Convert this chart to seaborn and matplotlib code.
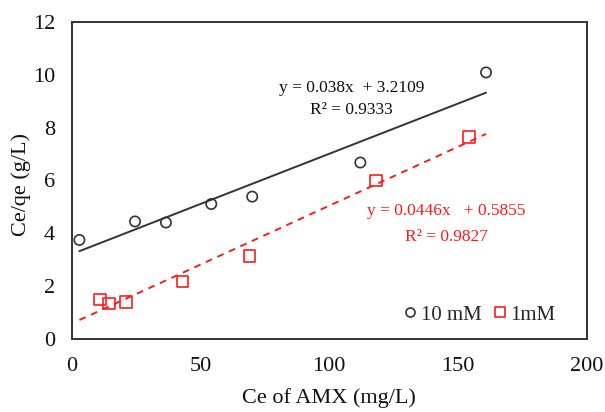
import numpy as np
import pandas as pd
import matplotlib
matplotlib.use("Agg")
import matplotlib.pyplot as plt
import seaborn as sns
from matplotlib.lines import Line2D

# ---- data ----
x_10mM = [3.0, 24.6, 36.6, 54.2, 70.1, 112.1, 160.9]
y_10mM = [3.75, 4.45, 4.41, 5.11, 5.39, 6.68, 10.09]
x_1mM = [10.9, 14.6, 21.0, 43.0, 69.0, 118.2, 154.4]
y_1mM = [1.50, 1.34, 1.40, 2.17, 3.14, 6.00, 7.64]

slope_10mM, icpt_10mM, r2_10mM = 0.038, 3.2109, 0.9333
slope_1mM, icpt_1mM, r2_1mM = 0.0446, 0.5855, 0.9827

x_ticks = [0, 50, 100, 150, 200]
y_ticks = [0, 2, 4, 6, 8, 10, 12]

sns.set_theme(style="white")
plt.rcParams['font.family'] = ['Liberation Serif', 'DejaVu Serif']

fig = plt.figure(figsize=(6.05, 4.12), dpi=100)
ax = fig.add_axes([0.1185, 0.1772, 0.8513, 0.7694])

dark = "#333333"
red = "#FF1A1A"

# trendlines
xl = np.array([min(x_10mM), max(x_10mM)])
df_l10 = pd.DataFrame({"x": xl, "y": slope_10mM * xl + icpt_10mM})
df_l1 = pd.DataFrame({"x": xl, "y": slope_1mM * xl + icpt_1mM})
sns.lineplot(data=df_l10, x="x", y="y", ax=ax, color=dark, lw=1.4)
sns.lineplot(data=df_l1, x="x", y="y", ax=ax, color=red, lw=1.4,
             linestyle=(0, (3.5, 3)))

# scatter
sns.scatterplot(x=x_10mM, y=y_10mM, ax=ax, marker="o", s=55,
                facecolor="none", edgecolor=dark, linewidth=1.2, zorder=3)
sns.scatterplot(x=x_1mM, y=y_1mM, ax=ax, marker="s", s=70,
                facecolor="none", edgecolor=red, linewidth=1.2, zorder=3)

ax.set_xlim(0, 200)
ax.set_ylim(0, 12)
ax.set_xticks(x_ticks)
ax.set_yticks(y_ticks)
ax.tick_params(direction="in", length=6, width=1.2, color=dark,
               labelsize=16, labelcolor="#111111")
ax.tick_params(axis="x", pad=13)
ax.tick_params(axis="y", pad=12)
for sp in ax.spines.values():
    sp.set_color(dark)
    sp.set_linewidth(1.4)
    sp.set_visible(True)

ax.set_xlabel("Ce of AMX (mg/L)", fontsize=16, color="#111111", labelpad=9)
ax.set_ylabel("Ce/qe (g/L)", fontsize=16, color="#111111")
ax.yaxis.set_label_coords(-0.079, 0.487)

# equations
ax.text(108.7, 9.5, f"y = {slope_10mM}x  + {icpt_10mM}", fontsize=12.5,
        color="#111111", ha="center", va="center")
ax.text(108.7, 8.67, f"R² = {r2_10mM}", fontsize=12.5,
        color="#111111", ha="center", va="center")
ax.text(145.4, 4.85, f"y = {slope_1mM}x   + {icpt_1mM}", fontsize=12.5,
        color=red, ha="center", va="center")
ax.text(145.4, 3.86, f"R² = {r2_1mM}", fontsize=12.5,
        color=red, ha="center", va="center")

handles = [
    Line2D([], [], marker="o", linestyle="none", markerfacecolor="none",
           markeredgecolor=dark, markersize=6.5, markeredgewidth=1.2),
    Line2D([], [], marker="s", linestyle="none", markerfacecolor="none",
           markeredgecolor=red, markersize=6.5, markeredgewidth=1.2),
]
ax.legend(handles, ["10 mM", "1mM"], ncol=2, frameon=False, fontsize=15,
          loc="center left", bbox_to_anchor=(0.645, 0.0757), borderpad=0,
          borderaxespad=0, handlelength=0.6, handletextpad=0.2,
          columnspacing=0.6)

fig.savefig("out.png", dpi=100)
